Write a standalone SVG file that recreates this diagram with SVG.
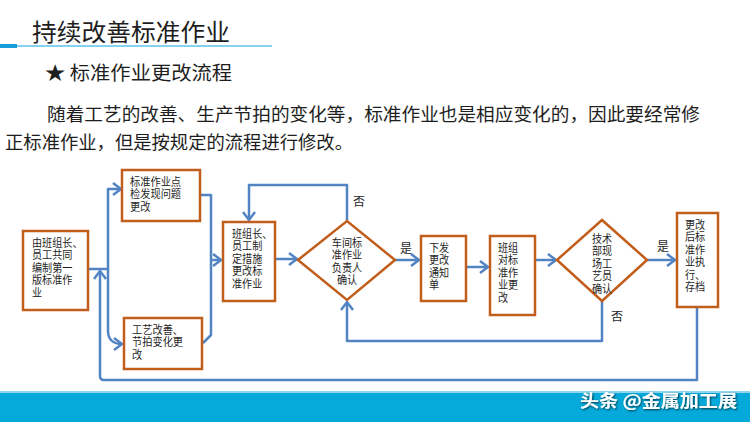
<svg xmlns="http://www.w3.org/2000/svg" width="750" height="422" viewBox="0 0 750 422">
<defs>
<style>
text{font-family:"Noto Sans CJK SC","Noto Sans",sans-serif;fill:#1e1e1e;}
.bt{font-family:"Liberation Sans","Noto Sans CJK SC",sans-serif;font-size:11px;}
.mid{text-anchor:middle;}
.box{fill:#fff;stroke:#C25E1C;stroke-width:2.5;}
.con{fill:none;stroke:#5284C4;stroke-width:2.5;stroke-linejoin:round;}
.lbl{font-size:12px;}
</style>
<marker id="arr" markerUnits="userSpaceOnUse" markerWidth="16" markerHeight="16" refX="10" refY="8" orient="auto" viewBox="0 0 16 16">
<path d="M2,2 L10,8 L2,14" fill="none" stroke="#5284C4" stroke-width="2.5" stroke-linejoin="miter"/>
</marker>
<filter id="sh" x="-10%" y="-30%" width="120%" height="160%">
<feDropShadow dx="1" dy="1" stdDeviation="0.8" flood-color="#000" flood-opacity="0.7"/>
</filter>
</defs>
<rect width="750" height="422" fill="#fff"/>
<g id="header">
<text x="32" y="41" font-size="24" textLength="198" lengthAdjust="spacingAndGlyphs">持续改善标准作业</text>
<line x1="17" y1="46" x2="272" y2="46" stroke="#5BC3EC" stroke-width="1.5"/>
<rect x="0" y="44" width="17" height="4" fill="#1B9DD9"/>
<text x="45" y="80" font-size="19" textLength="187" lengthAdjust="spacingAndGlyphs">★ 标准作业更改流程</text>
<text x="47" y="121" font-size="18" textLength="653" lengthAdjust="spacingAndGlyphs">随着工艺的改善、生产节拍的变化等，标准作业也是相应变化的，因此要经常修</text>
<text x="5" y="149" font-size="18" textLength="348" lengthAdjust="spacingAndGlyphs">正标准作业，但是按规定的流程进行修改。</text>
</g>
<g id="connectors">
<path class="con" d="M88,269 H108 V189 H121" marker-end="url(#arr)"/>
<path class="con" d="M108,269 V332 Q109,344 122,344" marker-end="url(#arr)"/>
<path class="con" d="M200,195 H211 V335 L203,343"/>
<path class="con" d="M211,260 H221" marker-end="url(#arr)"/>
<path class="con" d="M275,259 H297" marker-end="url(#arr)"/>
<path class="con" d="M347,221 V185 H249 V220" marker-end="url(#arr)"/>
<path class="con" d="M395,260 H419" marker-end="url(#arr)"/>
<path class="con" d="M466,267 H488" marker-end="url(#arr)"/>
<path class="con" d="M535,260 H556" marker-end="url(#arr)"/>
<path class="con" d="M647,260 H675" marker-end="url(#arr)"/>
<path class="con" d="M602,301 V341 H347 V302" marker-end="url(#arr)"/>
<path class="con" d="M697,307 V380 H104 Q100,380 100,376 V271" marker-end="url(#arr)"/>
<text class="lbl" x="353" y="206">否</text>
<text class="lbl" x="400" y="253">是</text>
<text class="lbl" x="657" y="251">是</text>
<text class="lbl" x="611" y="321">否</text>
</g>
<g id="nodeA">
<rect class="box" x="23" y="231" width="65" height="79"/>
<text class="bt" transform="matrix(0.92,0,0,1,32,0)"><tspan x="0" y="247">由班组长、</tspan><tspan x="0" y="259.5">员工共同</tspan><tspan x="0" y="272">编制第一</tspan><tspan x="0" y="284.5">版标准作</tspan><tspan x="0" y="297">业</tspan></text>
</g>
<g id="nodeB">
<rect class="box" x="122" y="170" width="78" height="51"/>
<text class="bt" transform="matrix(0.93,0,0,1,130,0)"><tspan x="0" y="186">标准作业点</tspan><tspan x="0" y="198.5">检发现问题</tspan><tspan x="0" y="211">更改</tspan></text>
</g>
<g id="nodeC">
<rect class="box" x="124" y="318" width="78" height="51"/>
<text class="bt" transform="matrix(0.93,0,0,1,132,0)"><tspan x="0" y="334">工艺改善、</tspan><tspan x="0" y="346.5">节拍变化更</tspan><tspan x="0" y="359">改</tspan></text>
</g>
<g id="nodeD">
<rect class="box" x="223" y="222" width="52" height="79"/>
<text class="bt" transform="matrix(0.92,0,0,1,232,0)"><tspan x="0" y="238">班组长、</tspan><tspan x="0" y="250.5">员工制</tspan><tspan x="0" y="263">定措施</tspan><tspan x="0" y="275.5">更改标</tspan><tspan x="0" y="288">准作业</tspan></text>
</g>
<g id="nodeE">
<polygon class="box" points="298,260 347,221 395,260 347,300"/>
<text class="bt mid" transform="matrix(0.92,0,0,1,347,0)"><tspan x="0" y="247">车间标</tspan><tspan x="0" y="259.5">准作业</tspan><tspan x="0" y="272">负责人</tspan><tspan x="0" y="284.5">确认</tspan></text>
</g>
<g id="nodeF">
<rect class="box" x="421" y="236" width="45" height="65"/>
<text class="bt" transform="matrix(0.92,0,0,1,429,0)"><tspan x="0" y="252">下发</tspan><tspan x="0" y="264.5">更改</tspan><tspan x="0" y="277">通知</tspan><tspan x="0" y="289.5">单</tspan></text>
</g>
<g id="nodeG">
<rect class="box" x="490" y="236" width="45" height="79"/>
<text class="bt" transform="matrix(0.92,0,0,1,498,0)"><tspan x="0" y="252">班组</tspan><tspan x="0" y="264.5">对标</tspan><tspan x="0" y="277">准作</tspan><tspan x="0" y="289.5">业更</tspan><tspan x="0" y="302">改</tspan></text>
</g>
<g id="nodeH">
<polygon class="box" points="557,260 602,220 647,260 602,301"/>
<text class="bt mid" transform="matrix(0.92,0,0,1,602,0)"><tspan x="0" y="243">技术</tspan><tspan x="0" y="255.5">部现</tspan><tspan x="0" y="268">场工</tspan><tspan x="0" y="280.5">艺员</tspan><tspan x="0" y="293">确认</tspan></text>
</g>
<g id="nodeI">
<rect class="box" x="677" y="213" width="41" height="94"/>
<text class="bt" transform="matrix(0.92,0,0,1,685,0)"><tspan x="0" y="229">更改</tspan><tspan x="0" y="241.5">后标</tspan><tspan x="0" y="254">准作</tspan><tspan x="0" y="266.5">业执</tspan><tspan x="0" y="279">行、</tspan><tspan x="0" y="291.5">存档</tspan></text>
</g>
<g id="footer">
<rect x="0" y="391" width="750" height="2" fill="#8FD5EE"/>
<rect x="0" y="393" width="750" height="29" fill="#05AADB"/>
<text x="580" y="407" font-size="17" font-weight="bold" style="fill:#fff" filter="url(#sh)" textLength="157" lengthAdjust="spacingAndGlyphs">头条 @金属加工展</text>
</g>
</svg>
